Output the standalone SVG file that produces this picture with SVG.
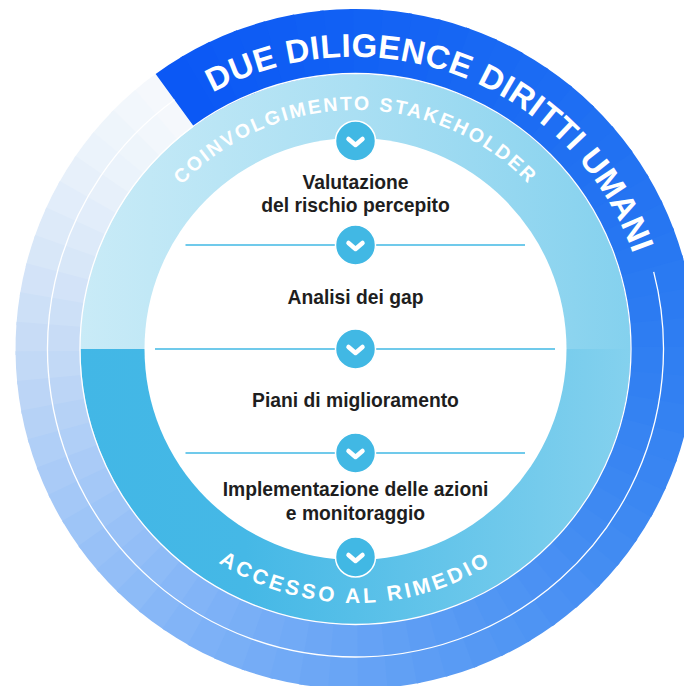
<svg xmlns="http://www.w3.org/2000/svg" width="684" height="686" viewBox="0 0 684 686">
<style>
.arc-label{font-family:"Liberation Sans",Arial,sans-serif;font-weight:700;fill:#ffffff}
.step{font-family:"Liberation Sans",Arial,sans-serif;font-weight:700;font-size:19.3px;fill:#1e1e1e;text-anchor:middle}
.conn{stroke:#41b8e4;stroke-width:1.3;fill:none}
.node-circle{fill:#41b8e4;stroke:#ffffff;stroke-width:1.5}
.chev{fill:none;stroke:#ffffff;stroke-width:4.5;stroke-linecap:round;stroke-linejoin:round}
.sep{fill:none;stroke:#ffffff;stroke-width:1.3}
</style>
<defs>
<path id="seg" d="M340,0 A340,340 0 0 1 338.38,33.18 L268.71,26.35 A270,270 0 0 0 270,0 Z"/>
<linearGradient id="bandTop" gradientUnits="userSpaceOnUse" x1="80" y1="0" x2="631" y2="0">
<stop offset="0" stop-color="#c9ebf7"/>
<stop offset="0.5" stop-color="#aadff3"/>
<stop offset="1" stop-color="#84d1ee"/>
</linearGradient>
<linearGradient id="bandBot" gradientUnits="userSpaceOnUse" x1="80" y1="0" x2="631" y2="0">
<stop offset="0" stop-color="#42b7e6"/>
<stop offset="0.3" stop-color="#45b8e6"/>
<stop offset="0.5" stop-color="#56bfe8"/>
<stop offset="1" stop-color="#84d1ee"/>
</linearGradient>
<path id="arcTitle" d="M79.2,242.9 A296,296 0 0 1 631.8,455.1"/>
<path id="arcTop" d="M116.5,349 A239,239 0 0 1 594.5,349"/>
<path id="arcBot" d="M101.5,349 A254,254 0 0 0 609.5,349"/>
<g id="chevNode"><circle class="node-circle" r="20"/><path class="chev" d="M-7,-2 L0,4 L7,-2"/></g>
</defs>

<g id="outer-ring" transform="translate(355.5 349)">
<use href="#seg" transform="rotate(589)" fill="#f5f8fc"/>
<use href="#seg" transform="rotate(584)" fill="#f2f7fc"/>
<use href="#seg" transform="rotate(579)" fill="#eef5fb"/>
<use href="#seg" transform="rotate(574)" fill="#ebf3fb"/>
<use href="#seg" transform="rotate(569)" fill="#e7f0fa"/>
<use href="#seg" transform="rotate(564)" fill="#e2edfa"/>
<use href="#seg" transform="rotate(559)" fill="#ddeaf9"/>
<use href="#seg" transform="rotate(554)" fill="#d8e7f8"/>
<use href="#seg" transform="rotate(549)" fill="#d3e3f8"/>
<use href="#seg" transform="rotate(544)" fill="#cde0f7"/>
<use href="#seg" transform="rotate(539)" fill="#c8dcf6"/>
<use href="#seg" transform="rotate(534)" fill="#c2d9f6"/>
<use href="#seg" transform="rotate(529)" fill="#bcd5f6"/>
<use href="#seg" transform="rotate(524)" fill="#b6d2f6"/>
<use href="#seg" transform="rotate(519)" fill="#b0cff7"/>
<use href="#seg" transform="rotate(514)" fill="#aacbf7"/>
<use href="#seg" transform="rotate(509)" fill="#a4c8f7"/>
<use href="#seg" transform="rotate(504)" fill="#9ec5f7"/>
<use href="#seg" transform="rotate(499)" fill="#98c1f7"/>
<use href="#seg" transform="rotate(494)" fill="#93bef7"/>
<use href="#seg" transform="rotate(489)" fill="#8dbbf7"/>
<use href="#seg" transform="rotate(484)" fill="#87b7f7"/>
<use href="#seg" transform="rotate(479)" fill="#82b4f7"/>
<use href="#seg" transform="rotate(474)" fill="#7db1f7"/>
<use href="#seg" transform="rotate(469)" fill="#79aff6"/>
<use href="#seg" transform="rotate(464)" fill="#75acf6"/>
<use href="#seg" transform="rotate(459)" fill="#71aaf6"/>
<use href="#seg" transform="rotate(454)" fill="#6da7f5"/>
<use href="#seg" transform="rotate(449)" fill="#69a5f5"/>
<use href="#seg" transform="rotate(444)" fill="#65a2f5"/>
<use href="#seg" transform="rotate(439)" fill="#61a0f4"/>
<use href="#seg" transform="rotate(434)" fill="#5d9df4"/>
<use href="#seg" transform="rotate(429)" fill="#599bf4"/>
<use href="#seg" transform="rotate(424)" fill="#5598f3"/>
<use href="#seg" transform="rotate(419)" fill="#5196f3"/>
<use href="#seg" transform="rotate(414)" fill="#4e94f3"/>
<use href="#seg" transform="rotate(409)" fill="#4b91f3"/>
<use href="#seg" transform="rotate(404)" fill="#488ff3"/>
<use href="#seg" transform="rotate(399)" fill="#448df2"/>
<use href="#seg" transform="rotate(394)" fill="#418bf2"/>
<use href="#seg" transform="rotate(389)" fill="#3e89f2"/>
<use href="#seg" transform="rotate(384)" fill="#3b87f2"/>
<use href="#seg" transform="rotate(379)" fill="#3985f2"/>
<use href="#seg" transform="rotate(374)" fill="#3784f2"/>
<use href="#seg" transform="rotate(369)" fill="#3482f2"/>
<use href="#seg" transform="rotate(364)" fill="#3280f2"/>
<use href="#seg" transform="rotate(359)" fill="#307ff2"/>
<use href="#seg" transform="rotate(354)" fill="#2e7df2"/>
<use href="#seg" transform="rotate(349)" fill="#2c7bf2"/>
<use href="#seg" transform="rotate(344)" fill="#2a7af2"/>
<use href="#seg" transform="rotate(339)" fill="#2878f2"/>
<use href="#seg" transform="rotate(334)" fill="#2676f2"/>
<use href="#seg" transform="rotate(329)" fill="#2574f2"/>
<use href="#seg" transform="rotate(324)" fill="#2373f2"/>
<use href="#seg" transform="rotate(319)" fill="#2171f2"/>
<use href="#seg" transform="rotate(314)" fill="#2070f2"/>
<use href="#seg" transform="rotate(309)" fill="#1e6ef3"/>
<use href="#seg" transform="rotate(304)" fill="#1c6cf3"/>
<use href="#seg" transform="rotate(299)" fill="#1b6bf3"/>
<use href="#seg" transform="rotate(294)" fill="#1969f3"/>
<use href="#seg" transform="rotate(289)" fill="#1868f3"/>
<use href="#seg" transform="rotate(284)" fill="#1666f3"/>
<use href="#seg" transform="rotate(279)" fill="#1564f4"/>
<use href="#seg" transform="rotate(274)" fill="#1463f4"/>
<use href="#seg" transform="rotate(269)" fill="#1262f4"/>
<use href="#seg" transform="rotate(264)" fill="#1160f4"/>
<use href="#seg" transform="rotate(259)" fill="#105ff4"/>
<use href="#seg" transform="rotate(254)" fill="#0f5df4"/>
<use href="#seg" transform="rotate(249)" fill="#0e5cf4"/>
<use href="#seg" transform="rotate(244)" fill="#0d5bf5"/>
<use href="#seg" transform="rotate(239)" fill="#0c59f5"/>
<use href="#seg" transform="rotate(234)" fill="#0b58f5"/>
</g>
<path id="outer-divider" class="sep" d="M653.7,271.9 A308,308 0 1 1 174.5,99.8"/>

<g id="stakeholder-band">
<path d="M80.5,349 A275,275 0 0 1 630.5,349 Z" fill="url(#bandTop)"/>
<path d="M80.5,349 A275,275 0 0 0 630.5,349 Z" fill="url(#bandBot)"/>
<circle cx="355.5" cy="349" r="275.5" class="sep"/>
</g>
<circle id="core" cx="355.5" cy="349" r="211" fill="#ffffff"/>

<g id="title-label">
<text class="arc-label" font-size="33" letter-spacing="0.4"><textPath href="#arcTitle" startOffset="50%" text-anchor="middle">DUE DILIGENCE DIRITTI UMANI</textPath></text>
</g>
<g id="top-label">
<text class="arc-label" font-size="19.5" letter-spacing="2.2"><textPath href="#arcTop" startOffset="50%" text-anchor="middle">COINVOLGIMENTO STAKEHOLDER</textPath></text>
</g>
<g id="bottom-label">
<text class="arc-label" font-size="21" letter-spacing="3.2"><textPath href="#arcBot" startOffset="50%" text-anchor="middle">ACCESSO AL RIMEDIO</textPath></text>
</g>

<g id="connectors">
<line class="conn" x1="185.5" y1="245" x2="525" y2="245"/>
<line class="conn" x1="155" y1="349" x2="555" y2="349"/>
<line class="conn" x1="185.5" y1="453" x2="525" y2="453"/>
</g>

<g id="node-1"><use href="#chevNode" x="355.5" y="141"/><text class="step" x="355.5" y="189">Valutazione</text><text class="step" x="355.5" y="212">del rischio percepito</text></g>
<g id="node-2"><use href="#chevNode" x="355.5" y="245"/><text class="step" x="355.5" y="304">Analisi dei gap</text></g>
<g id="node-3"><use href="#chevNode" x="355.5" y="349"/><text class="step" x="355.5" y="407">Piani di miglioramento</text></g>
<g id="node-4"><use href="#chevNode" x="355.5" y="453"/><text class="step" x="355.5" y="496">Implementazione delle azioni</text><text class="step" x="355.5" y="519.5">e monitoraggio</text></g>
<g id="node-5"><use href="#chevNode" x="355.5" y="557"/></g>
</svg>
